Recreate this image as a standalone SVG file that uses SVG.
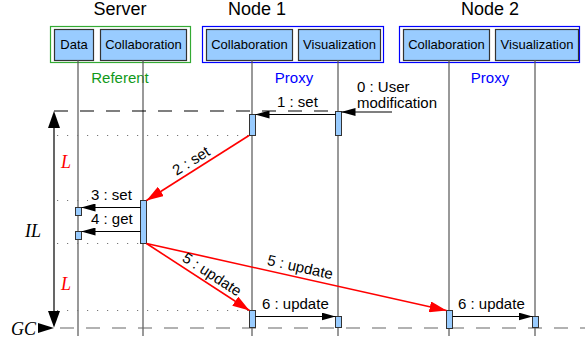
<svg xmlns="http://www.w3.org/2000/svg" width="585" height="344" viewBox="0 0 585 344">
<defs>
<marker id="ab" viewBox="0 0 14 8" refX="14" refY="4" markerWidth="14" markerHeight="8" markerUnits="userSpaceOnUse" orient="auto"><path d="M0,0 L14,4 L0,8 Z" fill="#000"/></marker>
<marker id="ar" viewBox="0 0 17 11" refX="17" refY="5.5" markerWidth="17" markerHeight="11" markerUnits="userSpaceOnUse" orient="auto"><path d="M0,0 L17,5.5 L0,11 Z" fill="#ff0000"/></marker>
<marker id="abig" viewBox="0 0 16 12" refX="16" refY="6" markerWidth="16" markerHeight="12" markerUnits="userSpaceOnUse" orient="auto"><path d="M0,0 L16,6 L0,12 Z" fill="#000"/></marker>
</defs>
<style>
text{font-family:"Liberation Sans",Arial,sans-serif;}
.title{font-size:18px;text-anchor:middle;fill:#000;}
.box{fill:#99ccff;stroke:#333;stroke-width:1.2;}
.lbl{font-size:13px;text-anchor:middle;fill:#000;}
.msg{font-size:15px;fill:#000;}
.life{stroke:#555;stroke-width:1.2;fill:none;}
.bar{fill:#99ccff;stroke:#333;stroke-width:1;}
.dot{stroke:#777;stroke-width:1;stroke-dasharray:1.2 8.8;fill:none;}
.dash{stroke-dasharray:14 12;fill:none;stroke-width:1.2;}
.blk{stroke:#000;stroke-width:1.2;fill:none;}
.red{stroke:#ff0000;stroke-width:1.6;fill:none;}
.ital{font-family:"Liberation Serif","Times New Roman",serif;font-style:italic;font-size:18px;}
</style>
<g id="server">
<text class="title" x="120" y="15">Server</text>
<rect x="50.5" y="26.5" width="140" height="36" fill="none" stroke="#33aa33" stroke-width="1.2"/>
<rect class="box" x="54.5" y="29.5" width="39" height="31"/>
<text class="lbl" x="74" y="49">Data</text>
<rect class="box" x="100.5" y="29.5" width="86" height="31"/>
<text class="lbl" x="143.5" y="49">Collaboration</text>
<text x="120" y="83" font-size="15" text-anchor="middle" fill="#11991a">Referent</text>
</g>
<g id="node1">
<text class="title" x="257" y="15">Node 1</text>
<rect x="202.5" y="26.5" width="181" height="36" fill="none" stroke="#0000ff" stroke-width="1.2"/>
<rect class="box" x="206.5" y="29.5" width="86" height="31"/>
<text class="lbl" x="249.5" y="49">Collaboration</text>
<rect class="box" x="298.5" y="29.5" width="82" height="31"/>
<text class="lbl" x="339.5" y="49">Visualization</text>
<text x="294" y="83" font-size="15" text-anchor="middle" fill="#0000ff">Proxy</text>
</g>
<g id="node2">
<text class="title" x="490" y="15">Node 2</text>
<rect x="399.5" y="26.5" width="180" height="36" fill="none" stroke="#0000ff" stroke-width="1.2"/>
<rect class="box" x="403.5" y="29.5" width="86" height="31"/>
<text class="lbl" x="446.5" y="49">Collaboration</text>
<rect class="box" x="495.5" y="29.5" width="83" height="31"/>
<text class="lbl" x="537" y="49">Visualization</text>
<text x="490" y="83" font-size="15" text-anchor="middle" fill="#0000ff">Proxy</text>
</g>
<g id="lifelines">
<line class="life" x1="78" y1="60" x2="78" y2="336" stroke="#777"/>
<line class="life" x1="143" y1="60" x2="143" y2="336"/>
<line class="life" x1="252" y1="60" x2="252" y2="336"/>
<line class="life" x1="338" y1="60" x2="338" y2="336"/>
<line class="life" x1="449" y1="60" x2="449" y2="336"/>
<line class="life" x1="535" y1="60" x2="535" y2="336"/>
</g>
<g id="guides">
<line class="dash" x1="54" y1="111" x2="336" y2="111" stroke="#000"/>
<line class="dash" x1="60" y1="328" x2="585" y2="328" stroke="#666"/>
<line class="dot" x1="57" y1="135.5" x2="248" y2="135.5"/>
<line class="dot" x1="57" y1="200.5" x2="88" y2="200.5"/>
<line class="dot" x1="57" y1="243.5" x2="140" y2="243.5"/>
<line class="dot" x1="57" y1="310.5" x2="248" y2="310.5"/>
</g>
<g id="bars">
<rect class="bar" x="335.5" y="111.5" width="6" height="24"/>
<rect class="bar" x="249.5" y="114.5" width="6" height="21"/>
<rect class="bar" x="140.5" y="200.5" width="6" height="43"/>
<rect class="bar" x="75.5" y="207.5" width="6" height="8"/>
<rect class="bar" x="75.5" y="231.5" width="6" height="8"/>
<rect class="bar" x="249.5" y="310.5" width="6" height="17"/>
<rect class="bar" x="335.5" y="316.5" width="6" height="11"/>
<rect class="bar" x="446.5" y="310.5" width="6" height="18"/>
<rect class="bar" x="532.5" y="316.5" width="6" height="11"/>
</g>
<g id="connectors">
<line class="blk" x1="392" y1="112" x2="341.5" y2="112" marker-end="url(#ab)"/>
<line class="blk" x1="335.5" y1="114.5" x2="255.5" y2="114.5" marker-end="url(#ab)"/>
<line class="red" x1="249" y1="135.5" x2="146.5" y2="200.5" marker-end="url(#ar)"/>
<line class="blk" x1="140.5" y1="207.5" x2="81.5" y2="207.5" marker-end="url(#ab)" stroke="#333"/>
<line class="blk" x1="140.5" y1="231.5" x2="81.5" y2="231.5" marker-end="url(#ab)" stroke="#333"/>
<line class="red" x1="146.5" y1="243.5" x2="249.5" y2="310.5" marker-end="url(#ar)"/>
<line class="red" x1="146.5" y1="243.5" x2="446.5" y2="310.5" marker-end="url(#ar)"/>
<line class="blk" x1="255.5" y1="316.5" x2="335.5" y2="316.5" marker-end="url(#ab)" stroke="#333"/>
<line class="blk" x1="452.5" y1="316.5" x2="532.5" y2="316.5" marker-end="url(#ab)" stroke="#333"/>
<line class="blk" x1="54" y1="127" x2="54" y2="311" stroke-width="1.6"/>
<path d="M48,128 L54,111 L60,128 Z" fill="#000"/>
<path d="M48,311 L54,327.5 L60,311 Z" fill="#000"/>
<path d="M38,323 L54,328 L38,333 Z" fill="#000"/>
</g>
<g id="labels">
<text class="msg" x="357" y="92">0 : User</text>
<text class="msg" x="357" y="108">modification</text>
<text class="msg" x="277" y="107">1 : set</text>
<text class="msg" text-anchor="middle" transform="translate(196,168.5) rotate(-32.3)" y="-4">2 : set</text>
<text class="msg" x="91" y="200">3 : set</text>
<text class="msg" x="91" y="224">4 : get</text>
<text class="msg" text-anchor="middle" transform="translate(207,282) rotate(33)" y="-4">5 : update</text>
<text class="msg" text-anchor="middle" transform="translate(298,277) rotate(12.6)" y="-5">5 : update</text>
<text class="msg" x="262" y="309">6 : update</text>
<text class="msg" x="458" y="309">6 : update</text>
<text class="ital" x="61" y="168" fill="#ff0000">L</text>
<text class="ital" x="61" y="290" fill="#ff0000">L</text>
<text class="ital" x="25" y="237" fill="#000">IL</text>
<text class="ital" x="11" y="335" fill="#000">GC</text>
</g>
</svg>
